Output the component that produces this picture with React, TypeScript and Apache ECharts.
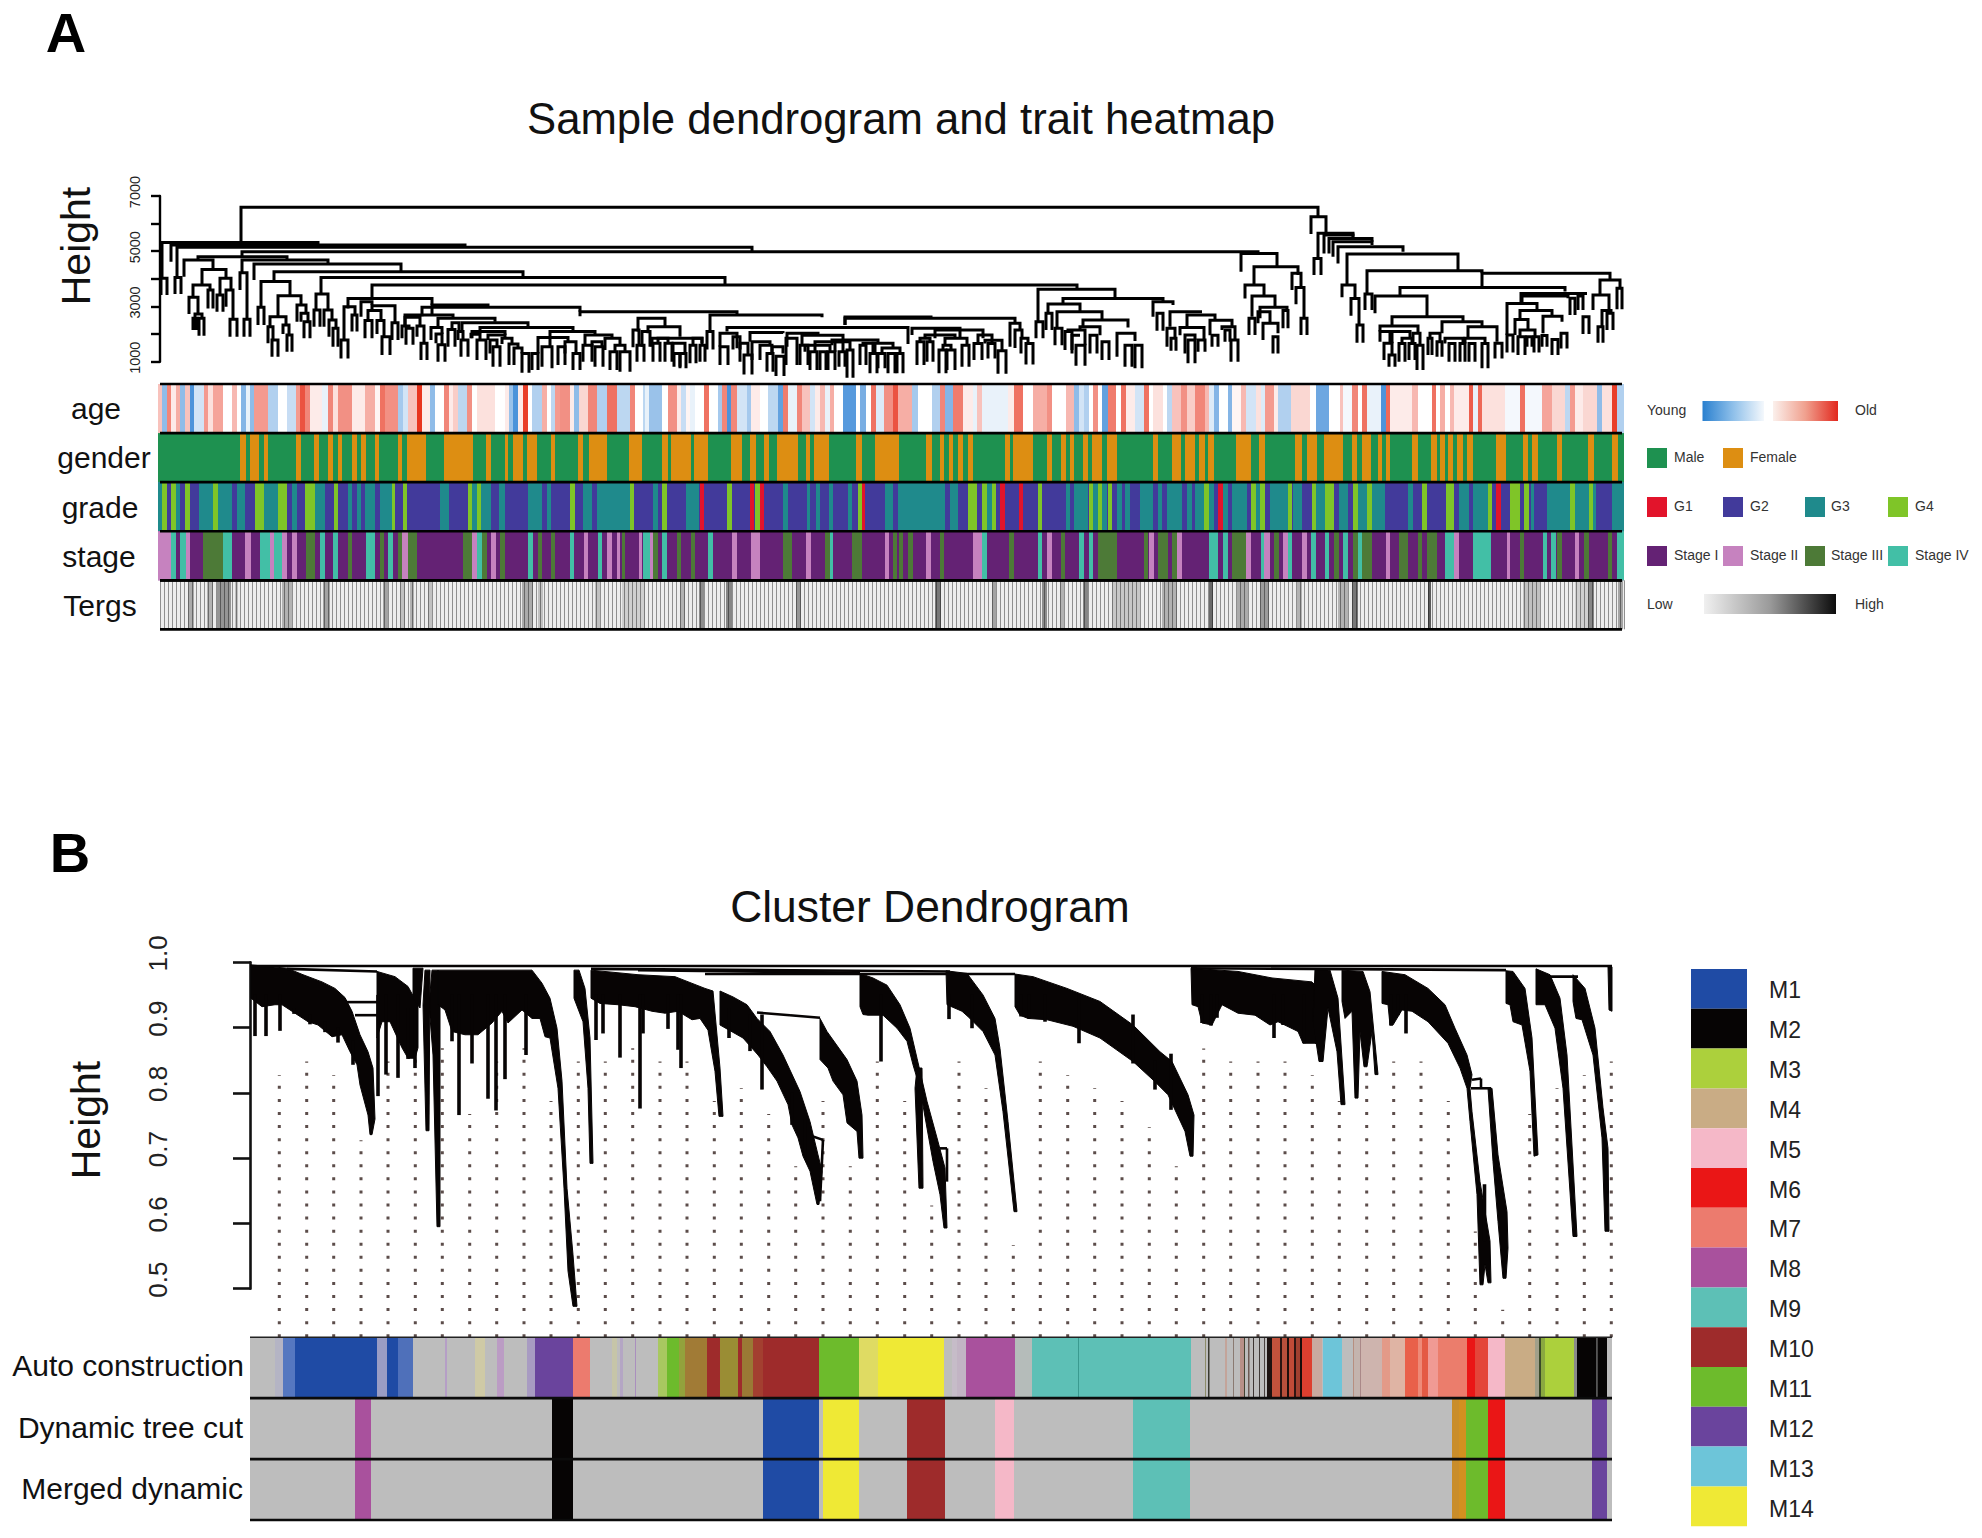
import React, { useEffect, useRef } from "react";
import * as echarts from "echarts";

const FONT = '"Liberation Sans", Arial, sans-serif';

// ---------- Panel A: sample dendrogram, [leftX, rightX, top, leftBottom, rightBottom]
const heightTicksA = [1000, 3000, 5000, 7000];
const sampleTree: number[][] = [
  [81,1158,6590,5285,6250],[2,158,5320,4020,5225],[1,7,4020,3415,3415],[11,305,5225,4620,5140],[17,592,5140,4050,4980],[15,21,4050,3450,3450],
  [82,1098,4980,4800,4920],[38,127,4800,4680,4680],[24,53,4680,4080,4340],[42,66,4340,3780,4020],[33,50,3780,3355,3595],[48,53,3595,2930,2930],
  [29,38,3330,2725,2750],[35,42,2725,2150,2570],[33,37,2570,2150,2150],[39,44,2570,1940,1940],[60,71,4020,3415,3595],[57,63,3415,2810,2810],
  [66,73,3595,2990,2535],[70,77,2535,1905,1905],[82,168,4680,4220,4540],[80,87,4220,3595,2535],[84,90,2535,1905,1905],[94,241,4540,3960,4260],
  [114,363,4260,3900,4050],[101,130,3900,2970,3415],[98,104,2970,2330,2330],[118,141,3390,2630,3050],[110,126,2630,2270,2330],[108,113,2270,1665,1785],
  [112,118,1785,1180,1180],[123,129,2330,2000,1965],[127,132,1965,1360,1360],[137,146,3050,2450,2750],[141,148,2750,2450,2450],[144,150,2450,1845,1845],
  [161,565,4050,3450,3780],[156,168,3450,2870,2870],[154,160,2870,2270,2270],[164,172,2870,2270,2510],[169,176,2510,1905,2210],[173,178,2210,1545,1545],
  [212,917,3780,3290,3620],[188,272,3290,2930,3050],[184,195,2990,1785,2690],[181,188,1785,1120,1120],[192,197,2690,2090,2090],[201,212,3170,2630,3050],
  [208,221,2850,2490,2510],[205,212,2490,1845,1845],[217,224,2490,2000,1905],[222,230,1905,1240,1240],[212,235,3030,2850,2410],[232,238,2410,1785,1785],
  [272,328,3050,2730,2970],[262,420,2970,2650,2810],[245,293,2690,2330,2570],[245,260,2610,2290,2290],[242,249,2290,1850,2210],[246,253,2210,1610,1610],
  [257,264,2290,1905,1665],[261,267,1665,1060,1060],[278,335,2570,2290,2450],[271,282,2240,1785,2000],[276,282,2000,1665,1610],[278,285,1610,1000,1000],
  [288,295,2170,1545,1545],[292,299,2410,2170,2090],[298,303,2090,1785,1785],[301,308,1785,1180,1180],[302,368,2410,2090,2240],[320,413,2240,2030,2090],
  [312,345,2090,1850,1970],[311,320,1990,1850,1785],[317,326,1785,1060,1060],[328,345,1970,1785,1850],[333,340,1545,820,820],[330,337,1785,1300,1545],
  [342,352,1850,1640,1640],[349,358,1640,880,1500],[354,362,1500,880,1300],[362,369,1300,600,600],[378,408,1880,1300,1720],[372,378,1300,700,700],
  [390,435,2090,1545,1970],[382,392,1545,820,760],[398,405,1545,880,880],[413,420,1300,700,700],[405,416,1720,1300,1300],[425,452,1970,1600,1850],
  [423,432,1600,1000,1000],[435,443,1545,820,820],[432,442,1720,1545,1545],[445,460,1850,1425,1600],[450,457,1360,700,700],[460,470,1360,640,640],
  [455,465,1600,1360,1360],[420,577,2810,2650,2730],[478,505,2570,2090,2270],[473,479,2150,1520,1600],[477,484,1600,1000,1000],[482,490,2090,1545,1545],
  [488,520,2270,2030,1905],[492,542,1850,1545,1665],[493,500,1665,1000,1000],[505,512,1665,1000,1000],[498,508,1850,1665,1665],[513,525,1665,1300,1300],
  [514,520,1300,820,820],[520,526,1300,760,760],[530,536,1600,940,940],[533,542,1850,1600,1600],[540,545,1600,1000,1000],[547,553,2090,1445,1445],
  [550,662,2690,2090,2610],[685,771,2620,2330,2570],[685,855,2570,2330,2390],[567,748,2240,2090,1640],[560,577,2030,1545,1485],[560,568,1545,880,880],
  [573,580,1905,1445,1445],[590,623,2060,1725,2030],[580,588,1665,1000,1270],[584,592,1240,540,540],[592,610,1725,1060,1600],[600,612,1600,1060,1300],
  [607,613,1300,640,640],[612,623,1545,1240,1300],[616,624,1200,480,480],[627,658,2030,1545,1960],[626,637,1850,880,880],[642,683,1960,1600,1720],
  [640,648,1600,880,880],[650,657,1360,700,700],[660,666,1360,700,700],[668,675,1360,700,700],[679,685,1360,820,820],[687,693,1420,420,420],
  [645,670,1600,1360,1360],[655,683,1720,1360,1360],[675,690,1720,1360,1420],[672,718,1785,1600,1640],[700,706,1600,880,880],[710,717,1300,580,580],
  [718,725,1300,760,760],[728,735,1300,580,580],[737,743,1300,580,580],[703,715,1665,1600,1300],[713,733,1665,1300,1500],[722,740,1500,1300,1300],
  [752,800,2210,1970,1850],[775,823,2150,1850,1850],[757,764,1720,880,880],[767,773,1720,1000,1000],[779,786,1420,580,580],[787,795,1420,700,700],
  [802,809,1600,820,820],[814,822,1660,1060,1060],[828,835,1660,1120,1120],[838,846,1400,560,560],[760,770,1850,1720,1720],[783,791,1600,1420,1420],
  [785,807,1850,1600,1600],[765,795,1970,1850,1850],[818,832,1970,1660,1660],[825,842,1780,1660,1400],[850,860,2390,1545,2150],[855,862,2150,1500,1850],
  [861,868,1850,1300,1660],[866,873,1660,900,900],[878,955,3620,2450,3290],[876,883,2450,1850,1850],[903,1003,3290,3090,3170],[888,920,3090,2750,2810],
  [886,892,2750,2150,2150],[897,942,2810,2210,2510],[895,902,2210,1600,1600],[923,968,2510,2270,2240],[905,912,2090,1425,1425],[912,920,1960,1300,1960],
  [916,925,1600,850,850],[930,937,1960,1300,1300],[942,949,1720,1060,1060],[908,925,2150,2090,1600],[920,940,2270,2150,1960],[957,975,2030,1180,1750],
  [965,972,1600,820,820],[975,982,1600,760,760],[993,1013,3170,2630,3050],[997,1003,2750,2120,2120],[1010,1042,2810,2270,2810],[1007,1015,2210,1545,1850],
  [1011,1016,1850,1400,1400],[1020,1044,2240,1960,1785],[1025,1035,1970,1300,1785],[1028,1035,1785,940,940],[1038,1045,1785,1360,1360],[1027,1055,2690,2240,2500],
  [1050,1072,2500,1960,2270],[1052,1058,1960,1545,1545],[1065,1070,2150,1720,1720],[1071,1078,1785,1000,1000],[1062,1075,2270,2150,1785],
  [1081,1117,4920,4260,4440],[1094,1138,4440,3780,4140],[1085,1104,3780,3290,3380],[1092,1115,3380,2630,2970],[1089,1095,2570,1965,1965],[1100,1127,2970,2570,2850],
  [1123,1128,2850,2210,2210],[1098,1110,2810,2390,2390],[1103,1118,2390,1785,2030],[1113,1118,1905,1300,1300],[1132,1141,4200,3600,3690],[1136,1144,3690,3080,2570],
  [1141,1147,2570,1965,1965],[1151,1166,6250,5620,5650],[1158,1193,5650,4740,5530],[1154,1161,4740,4140,4140],[1164,1193,5590,4920,5465],[1169,1212,5465,4920,5345],
  [1173,1212,5345,4800,5225],[1178,1243,5165,4560,4980],[1187,1298,4900,3780,4320],[1182,1195,3780,3330,3300],[1191,1199,3290,2660,2330],[1197,1203,2330,1690,1690],
  [1207,1322,4290,3470,4200],[1205,1212,3450,2870,2870],[1215,1267,3380,2750,2630],[1322,1450,4200,3690,3960],[1240,1405,3690,3380,3540],[1440,1460,3960,3415,3660],
  [1433,1449,3415,2870,2730],[1457,1462,3660,2900,2900],[1447,1453,2750,2150,2150],[1438,1443,2270,1690,1690],[1442,1451,2850,2270,2750],[1361,1427,3470,3110,3470],
  [1423,1429,2630,2000,2000],[1410,1415,3300,2690,2690],[1418,1423,3380,2870,2870],[1362,1408,3380,3110,3300],[1347,1377,3110,1965,2850],[1347,1353,1965,1330,1330],
  [1360,1392,2850,2530,2650],[1355,1368,2530,1965,2150],[1383,1402,2650,2030,2450],[1358,1365,1900,1240,1240],[1367,1372,1900,1540,1540],[1374,1379,1900,1330,1330],
  [1382,1387,1950,1540,1540],[1392,1398,1800,1240,1240],[1401,1407,2030,1480,1480],[1360,1375,2150,1900,1900],[1232,1303,2630,2290,2450],[1220,1258,2290,2090,2030],
  [1220,1232,2090,1720,1665],[1224,1232,1665,1060,1240],[1229,1235,1240,820,820],[1239,1245,1660,1000,1000],[1249,1255,1660,1060,1060],[1257,1263,1600,700,700],
  [1268,1272,1850,1240,1240],[1277,1282,1720,1180,1180],[1289,1295,1660,1000,1000],[1300,1305,1660,1000,1000],[1309,1315,1660,1000,1000],[1322,1328,1660,760,760],
  [1335,1342,1665,1120,1120],[1242,1252,1850,1660,1660],[1230,1250,2090,1665,1850],[1253,1260,2030,1660,1600],[1270,1280,2030,1850,1720],[1285,1303,1850,1660,1660],
  [1305,1325,1850,1660,1660],[1282,1322,2450,2030,2270],[1308,1337,2270,1850,1720],
];

// ---------- Panel A: trait rows
const ageStops: number[][] = [
  [-2,.3],[2,-.5],[7,.6],[11,.1],[16,.4],[20,-.5],[25,.3],[30,-.8],[34,-.2],[44,.5],[48,.15],[53,.45],[63,0],[72,.35],[77,0],[81,-.55],[86,-.1],[90,-.5],[94,.5],[108,-.35],[118,0],[127,-.25],[136,.5],[140,.85],[145,.6],[150,.1],[162,-.1],[168,.6],[173,.15],[178,.55],[192,.1],[205,.4],[215,.05],[220,.7],[225,.55],[238,-.4],[243,-.2],[248,.3],[257,1],[262,.1],[270,-.5],[275,0],[284,.6],[289,.1],[293,.25],[298,-.3],[307,.55],[312,0],[317,.15],[335,0],[345,.1],[349,-.45],[353,-.8],[358,.1],[363,.95],[368,0],[372,-.35],[382,.4],[387,0],[391,-.3],[395,.5],[400,.55],[410,.1],[414,-.5],[419,.2],[428,.6],[437,-.35],[447,.7],[457,-.3],[470,.6],[475,0],[483,-.3],
  [485,-.1],[489,-.45],[502,0],[508,.55],[517,.1],[521,-.25],[526,.05],[530,-.1],[535,0],[544,.7],[549,0],[558,-.4],[562,.6],[567,-.8],[571,.6],[577,-.2],[587,-.4],[591,.1],[600,0],[608,-.3],[618,-.7],[623,.65],[628,-.1],[637,.6],[642,.3],[650,-.2],[655,.1],[660,.35],[665,-.1],[670,.4],[674,0],[683,-.75],[696,0],[700,-.6],[706,0],[711,.7],[716,-.15],[724,.55],[733,.85],[738,.4],[752,-.4],[758,0],[772,-.35],[780,.6],[785,-.55],[793,.65],[803,.1],[813,-.1],[817,.3],[822,-.1],[848,.1],[854,.7],[863,0],[873,.4],[887,.55],[892,0],[906,.35],[914,-.5],[919,-.2],[924,-.35],[929,0],[933,.55],[938,0],[942,-.7],[948,.65],[956,0],[961,.7],[966,.1],[975,-.2],
  [984,.7],[989,0],[993,.15],[1003,0],[1007,-.3],[1012,.3],[1021,.55],[1027,.25],[1035,.6],[1045,.35],[1049,-.15],[1054,-.55],[1059,0],[1068,-.55],[1072,.05],[1081,.35],[1086,-.2],[1096,.15],[1101,-.15],[1105,.5],[1114,.1],[1118,-.35],[1131,.2],[1150,0],[1156,-.65],[1169,0],[1180,.3],[1183,-.05],[1192,.6],[1198,0],[1202,.7],[1207,-.1],[1221,-.8],[1226,.75],[1230,.1],[1252,.35],[1258,0],[1272,.7],[1276,0],[1280,.4],[1285,0],[1290,.35],[1294,.1],[1309,.8],[1313,-.1],[1318,.75],[1322,.15],[1345,-.05],[1360,.7],[1365,-.05],[1382,.45],[1392,.2],[1405,-.3],[1410,.5],[1415,.1],[1423,.2],[1437,-.5],[1442,.15],[1452,.95],[1457,-.35],
];
const femaleRuns: number[][] = [
  [80,86],[90,99],[104,108],[136,141],[154,159],[168,173],[178,182],[192,197],[201,206],[215,219],[238,242],[247,266],[284,313],[326,331],[345,348],[353,363],[367,377],[391,395],[418,423],[429,447],[469,482],
  [502,508],[511,531],[534,548],[571,582],[590,596],[604,609],[617,638],[646,650],[654,669],[696,702],[715,739],[766,772],[780,784],[789,793],[798,803],[808,813],[845,850],[853,873],[887,892],[901,906],[910,914],[923,928],[932,942],[947,957],
  [993,998],[1012,1021],[1025,1035],[1039,1045],[1048,1054],[1076,1091],[1099,1105],[1135,1142],[1147,1157],[1164,1183],[1192,1197],[1202,1211],[1218,1222],[1226,1230],[1252,1258],[1271,1277],[1280,1285],[1288,1293],[1297,1303],[1307,1313],[1336,1346],[1363,1368],[1372,1378],[1397,1402],[1428,1434],[1452,1458],
];
const g1Runs: number[][] = [[540,544],[590,594],[600,604],[702,705],[840,845],[859,863],[1058,1063],[1336,1341]];
const g3Runs: number[][] = [
  [-2,2],[16,20],[39,53],[58,72],[77,85],[104,118],[132,137],[155,165],[188,192],[197,201],[205,215],[220,232],[280,289],[312,317],[321,331],[339,345],[368,382],[387,391],[423,432],[437,470],
  [493,498],[526,539],[623,628],[647,650],[656,660],[669,673],[688,692],[725,733],[738,785],[790,798],[827,832],[906,910],[914,928],[933,938],[942,947],[957,962],[965,970],
  [980,993],[998,1002],[1007,1022],[1027,1032],[1035,1044],[1049,1054],[1063,1068],[1072,1087],[1096,1100],[1110,1128],[1133,1142],[1156,1165],[1179,1188],[1198,1207],[1212,1225],[1248,1253],[1299,1309],[1313,1328],[1371,1374],[1387,1410],[1415,1429],[1433,1436],[1452,1464],
];
const g4Runs: number[][] = [
  [2,7],[11,16],[25,30],[53,58],[95,104],[118,127],[145,155],[174,178],[232,235],[243,247],[308,312],[317,321],[410,415],[470,474],
  [502,507],[567,572],[595,600],[698,702],[808,817],[822,827],[832,836],[878,882],[929,933],[938,942],[948,952],
  [1044,1049],[1091,1096],[1100,1105],[1128,1132],[1152,1156],[1165,1174],[1193,1198],[1207,1212],[1262,1267],[1286,1294],[1328,1332],[1350,1360],[1364,1369],[1410,1415],[1429,1433],
];
const stage2Runs: number[][] = [
  [-2,11],[26,30],[85,91],[110,114],[122,127],[132,137],[242,248],[312,317],[331,336],[424,428],[447,452],[457,460],[479,482],[485,493],[572,577],[591,600],[646,651],[725,729],[766,771],[813,822],[887,892],
  [989,994],[1017,1022],[1086,1091],[1104,1110],[1123,1128],[1142,1147],[1226,1230],[1294,1299],[1347,1350],[1415,1419],
];
const stage3Runs: number[][] = [
  [43,63],[188,192],[220,224],[238,242],[248,257],[303,312],[322,327],[340,345],[146,155],[378,382],[391,395],[462,465],[493,498],[517,521],[531,535],[623,632],[665,670],[692,702],[733,737],[739,743],[748,753],[780,784],[849,854],[901,905],[938,957],
  [984,988],[998,1008],[1012,1017],[1072,1086],[1114,1119],[1174,1179],[1193,1198],[1202,1212],[1239,1248],[1258,1262],[1267,1277],[1360,1364],[1397,1402],[1424,1429],[1448,1452],
];
const stage4Runs: number[][] = [
  [11,16],[20,26],[63,72],[100,110],[114,122],[160,165],[173,178],[206,215],[228,233],[317,322],[368,373],[410,414],[438,442],[483,490],[502,507],[548,553],[670,673],[822,827],[878,882],[919,924],[929,933],
  [1049,1058],[1063,1068],[1101,1104],[1128,1132],[1151,1156],[1165,1169],[1183,1188],[1198,1202],[1285,1294],[1313,1331],[1383,1387],[1391,1396],[1457,1464],
];
const tergsBands: number[][] = [
  [28,34,.45],[47,53,.4],[57,71,.6],[75,78,.3],[122,132,.4],[163,170,.5],[223,228,.5],[240,245,.3],[250,254,.4],[268,272,.3],[362,373,.45],[378,383,.3],[435,440,.3],[462,485,.2],
  [520,525,.4],[539,544,.65],[566,572,.7],[636,641,.6],[775,781,.8],[832,836,.5],[882,887,.65],[900,904,.4],[923,928,.7],[952,980,.25],
  [1002,1017,.4],[1049,1053,.9],[1077,1088,.45],[1100,1109,.55],[1137,1142,.4],[1178,1188,.4],[1192,1198,.8],[1268,1271,1],[1363,1380,.3],[1415,1428,.2],[1428,1434,.7],[1458,1463,.5],
];
const traitNames = ["age", "gender", "grade", "stage", "Tergs"];
const traitRowEdges = [0, 1, 2, 3, 4];
const tergsRowEdges = [0, 1];

// ---------- Panel B: module colours
const moduleNames = ["M1","M2","M3","M4","M5","M6","M7","M8","M9","M10","M11","M12","M13","M14"];
const moduleColors = ["#1f4ba5","#060404","#acd03c","#c9ac85","#f5b8c8","#ea1616","#ec7b6e","#a9519d","#5dc0b6","#9e2b2b","#6dbb2c","#6a449d","#6dc5d9","#efe935"];
const [M1,M2,M3,M4,M5,M6,M7,M8,M9,M10,M11,M12,M13,M14] = moduleColors;
const GREY = "#bdbdbd";
const autoRuns: [number,number,string][] = [
  [25,33,"#b4b4c4"],[33,45,"#5577c0"],[45,127,M1],[127,137,"#9a9dc4"],[137,148,M1],[148,163,"#4f70ba"],[195,197,"#b59ec6"],[225,235,"#cfcaa6"],[247,254,"#bb9cc4"],[277,285,"#a89bc2"],[285,323,M12],[323,340,M7],
  [362,367,"#c6c5a8"],[370,373,"#b4a6c4"],[385,386,"#aa8fbe"],[408,417,"#a8c860"],[417,429,M11],[429,435,"#93a23c"],[435,450,"#a17b36"],
  [450,457,"#a07a33"],[457,470,M10],[470,488,"#9a8d34"],[488,492,M10],[492,503,"#9a7a35"],[503,513,"#a33f30"],[513,569,M10],[569,609,M11],[609,628,"#dfdb63"],[628,694,M14],[702,707,"#c6bcc8"],[707,716,"#c2b4c4"],[716,765,M8],[765,782,"#b5bcba"],[782,941,M9],[828,829,"#3a9a90"],
  [955,956,"#8d8d6a"],[958,959.5,"#3a3a30"],[975,977,"#c3a49a"],[983,984,"#8a7a72"],[990,994,"#b89088"],[994,995,"#444433"],[998,999.5,"#6e5a54"],[1003,1004,"#3d3533"],[1009,1010,"#403a38"],[1014,1015,"#4a4240"],[1017,1022,"#1c1210"],
  [1022,1030,"#c1523c"],[1030,1032,"#2a1512"],[1032,1037,"#b8503c"],[1037,1039,"#1e0f0c"],[1039,1044,"#c04b38"],[1044,1046,"#301512"],[1046,1050,"#a04030"],[1050,1052,"#1a0d0a"],[1052,1062,"#dd3f2f"],[1062,1072,"#c9aaa0"],[1073,1092,M13],
  [1103,1104,"#b78f80"],[1104,1110,"#c4b4ae"],[1110,1111,"#aa8888"],[1111,1132,"#ceb4ae"],[1132,1140,"#e39a88"],[1140,1155,"#dfb4a4"],[1155,1168,"#e9604a"],[1168,1172,"#ee8a78"],[1172,1178,"#e45a44"],[1178,1188,"#f09a94"],[1188,1217,"#eb7d6c"],[1217,1225,M6],[1225,1232,"#e4453a"],[1232,1238,"#e4453a"],
  [1238,1255,M5],[1255,1285,M4],[1285,1289,"#a0a08a"],[1289,1291,"#3a4a28"],[1291,1295,"#8aa840"],[1295,1324,M3],[1324,1327,"#8a8a8a"],[1327,1346,M2],[1346,1347.5,"#555555"],[1347.5,1357,M2],
];
const cutRuns: [number,number,string][] = [
  [105,121,M8],[302,323,M2],[513,569,M1],[573,609,M14],[657,695,M10],[745,764,M5],[883,940,M9],[1202,1209,"#c98d2a"],[1209,1216,"#d39020"],[1216,1238,M11],[1238,1255,M6],[1342,1357,M12],
];
const moduleRowNames = ["Auto construction", "Dynamic tree cut", "Merged dynamic"];
const moduleRowEdges = [1, 2, 3];

// ---------- Panel B: gene dendrogram masses, [position, height]
const geneMasses: number[][][] = [
  [[1,.996],[37,.991],[53,.981],[72,.970],[85,.960],[95,.946],[102,.925],[110,.889],[118,.863],[123,.838],[125,.760],[122,.736],[120,.736],[118,.766],[110,.812],[107,.843],[100,.863],[92,.889],[82,.886],[68,.904],[58,.909],[48,.919],[40,.927],[32,.935],[25,.935],[12,.932],[1,.945]],
  [[127,.986],[145,.978],[158,.963],[168,.935],[168,.869],[165,.853],[158,.853],[152,.869],[143,.899],[140,.909],[132,.909],[127,.884]],
  [[182,.988],[188,.988],[190,.935],[190,.595],[187,.595],[183,.858],[179,.935]],
  [[175,.988],[180,.988],[179,.742],[176,.742],[173,.935]],
  [[163,.991],[173,.991],[170,.930],[163,.945]],
  [[188,.988],[282,.988],[292,.968],[300,.945],[307,.899],[312,.818],[317,.654],[323,.552],[327,.473],[323,.473],[318,.527],[314,.654],[308,.807],[300,.884],[295,.886],[290,.914],[282,.914],[272,.927],[258,.907],[252,.925],[242,.907],[228,.889],[215,.889],[202,.894],[195,.927],[188,.935]],
  [[324,.988],[329,.988],[335,.960],[340,.884],[343,.692],[340,.692],[338,.807],[333,.909],[324,.945]],
  [[341,.988],[388,.981],[425,.978],[455,.960],[463,.956],[470,.838],[473,.764],[469,.764],[465,.833],[458,.896],[450,.914],[442,.912],[428,.925],[415,.922],[402,.925],[385,.932],[368,.935],[350,.937],[341,.945]],
  [[470,.956],[483,.947],[497,.935],[507,.914],[520,.894],[533,.858],[550,.802],[560,.756],[568,.705],[572,.680],[569,.629],[567,.629],[560,.680],[553,.703],[548,.731],[542,.751],[538,.782],[527,.818],[517,.840],[508,.858],[493,.884],[478,.897],[470,.904]],
  [[570,.914],[577,.894],[597,.851],[607,.818],[612,.766],[613,.700],[609,.700],[607,.741],[597,.754],[593,.797],[583,.818],[578,.838],[570,.851]],
  [[610,.983],[623,.976],[637,.965],[650,.935],[660,.899],[667,.853],[677,.787],[687,.731],[695,.685],[697,.593],[694,.593],[690,.644],[683,.695],[677,.746],[670,.807],[663,.843],[657,.879],[647,.899],[633,.919],[618,.919],[613,.920],[610,.932]],
  [[667,.838],[672,.838],[673,.654],[669,.654],[665,.807]],
  [[696,.987],[717,.983],[733,.950],[745,.914],[750,.868],[758,.756],[767,.618],[764,.618],[753,.771],[745,.858],[733,.894],[720,.914],[712,.925],[697,.935]],
  [[765,.982],[783,.978],[817,.960],[850,.940],[883,.904],[910,.863],[922,.848],[938,.797],[944,.766],[943,.703],[940,.703],[935,.741],[918,.797],[905,.817],[883,.848],[850,.884],[823,.902],[797,.912],[778,.914],[770,.919],[765,.932]],
  [[941,.991],[988,.986],[1022,.976],[1062,.970],[1065,.965],[1068,.874],[1065,.876],[1053,.876],[1048,.894],[1028,.909],[1020,.904],[1005,.919],[988,.922],[972,.935],[962,.904],[952,.907],[948,.932],[942,.935]],
  [[1065,.990],[1080,.988],[1088,.945],[1095,.782],[1091,.782],[1087,.863],[1078,.930],[1073,.848],[1069,.848],[1063,.909]],
  [[1092,.988],[1113,.986],[1120,.955],[1128,.828],[1125,.828],[1122,.894],[1117,.840],[1114,.840],[1110,.894],[1108,.792],[1105,.792],[1102,.925],[1095,.914],[1092,.940]],
  [[1132,.986],[1155,.981],[1178,.960],[1195,.935],[1205,.899],[1217,.858],[1222,.828],[1220,.807],[1222,.771],[1230,.664],[1240,.573],[1241,.509],[1238,.509],[1235,.537],[1233,.506],[1230,.506],[1227,.644],[1220,.756],[1217,.807],[1210,.838],[1198,.876],[1178,.909],[1162,.925],[1152,.927],[1143,.904],[1140,.904],[1138,.935],[1132,.937]],
  [[1238,.807],[1242,.807],[1248,.705],[1257,.618],[1258,.562],[1256,.516],[1253,.516],[1248,.603],[1243,.695]],
  [[1256,.987],[1263,.986],[1275,.960],[1282,.884],[1288,.705],[1284,.703],[1280,.833],[1272,.904],[1263,.909],[1260,.935],[1256,.937]],
  [[1286,.990],[1300,.981],[1310,.945],[1317,.858],[1327,.580],[1323,.580],[1313,.807],[1305,.899],[1295,.935],[1286,.935]],
  [[1323,.981],[1335,.960],[1345,.899],[1353,.777],[1358,.715],[1359,.588],[1355,.588],[1352,.731],[1343,.858],[1332,.912],[1326,.914],[1323,.940]],
  [[1358,.993],[1362,.993],[1362,.925],[1359,.927]],
];
// [position, top, bottom] single hanging branches
const geneSpikes: number[][] = [
  [5,.95,.887],[16,.95,.887],[30,.95,.895],[44,.93,.921],[60,.92,.905],[75,.91,.893],[88,.90,.877],[103,.88,.843],[128,.95,.795],[136,.95,.828],[148,.95,.823],[158,.93,.852],[165,.93,.838],
  [202,.95,.879],[209,.95,.766],[222,.95,.845],[238,.95,.791],[246,.95,.773],[255,.95,.821],[276,.95,.858],
  [346,.95,.881],[353,.95,.891],[370,.95,.854],[390,.95,.776],[393,.95,.891],[418,.95,.898],[428,.95,.866],[431,.95,.838],
  [479,.93,.884],[500,.92,.864],[512,.92,.805],[542,.80,.751],[555,.76,.703],[631,.95,.848],[699,.95,.913],[722,.95,.899],
  [771,.95,.917],[779,.95,.914],[795,.95,.909],[829,.95,.876],[883,.92,.845],[905,.85,.805],[921,.86,.774],
  [952,.95,.907],[961,.95,.903],[967,.95,.915],[1024,.95,.884],[1033,.95,.904],[1054,.95,.876],[1141,.95,.903],[1148,.95,.919],[1156,.95,.891],
  [1234.5,.66,.573],
];
// [x1, h1, x2, h2] thin joining branches
const geneLinks: number[][] = [
  [0,.9944,1362,.9944],[37,.990,127,.986],[95,.939,127,.939],[105,.919,127,.919],[341,.990,700,.986],[388,.988,610,.984],[455,.982,765,.982],
  [507,.923,540,.919],[540,.919,570,.915],[563,.733,573,.728],[573,.728,570,.634],[690,.715,697,.715],[697,.715,697,.664],
  [1222,.820,1231,.822],[1231,.822,1231,.807],[1221,.807,1241,.807],[1286,.978,1328,.978],[941,.991,1256,.988],
];
// [position, height of the top dot] dotted guide columns
const guideColumns: number[][] = [
  [29.3,.8275],[56.7,.848],[83.7,.8275],[111,.7274],[138,.848],[165.3,.8683],[192.3,.8683],[219.7,.7677],[246.7,.848],[274,.8683],[301,.7876],[328.3,.848],[355.3,.848],[382.7,.8683],[410,.848],[437,.848],
  [464.3,.7876],[491.3,.8075],[518.7,.7677],[545.7,.6876],[573,.7876],[600.3,.6876],[627.3,.848],[654.7,.7876],[681.7,.6273],[709,.848],[736,.8075],[763.3,.5671],[790.3,.848],[817.7,.8275],[844.7,.8075],[872,.7876],[899.3,.7473],
  [926.3,.6876],[953.7,.8678],[980.7,.848],[1008,.848],[1035,.848],[1062.3,.8275],[1089.3,.7876],[1116.7,.848],[1143.7,.848],[1171,.848],[1198.3,.7876],[1225.3,.5875],[1252.7,.4676],[1279.7,.7677],[1307,.8075],[1334.3,.8275],[1361.3,.848],
];
const GUIDE_FOOT = .4257;
const heightTicksB = [0.5, 0.6, 0.7, 0.8, 0.9, 1.0];

// ---------- Legend entries
const genderLegend = [["Male","#1e9150"],["Female","#dd8e12"]];
const gradeLegend = [["G1","#e2142b"],["G2","#423a9b"],["G3","#1f8a8c"],["G4","#7fc528"]];
const stageLegend = [["Stage I","#642274"],["Stage II","#c682bf"],["Stage III","#4d7a37"],["Stage IV","#42bfa6"]];

const cust = (gridIndex: number, items: any[], draw: (it: any, api: any) => any, z = 2) => ({
  type: "custom",
  xAxisIndex: gridIndex,
  yAxisIndex: gridIndex,
  silent: true,
  animation: false,
  z,
  data: items.map((_, i) => [i]),
  renderItem: (params: any, api: any) => draw(items[params.dataIndex], api),
});

const cell = (api: any, x0: number, x1: number, r0: number, r1: number, style: any) => {
  const a = api.coord([x0, r0]);
  const b = api.coord([x1, r1]);
  return { type: "rect", shape: { x: a[0], y: a[1], width: b[0] - a[0], height: b[1] - a[1] }, style };
};

const runsOn = (grid: number, row: number, runs: number[][], fill: string, z = 2) =>
  cust(grid, runs, (r, api) => cell(api, r[0], r[1], row, row + 1, { fill }), z);

const txt = (text: string, x: number, y: number, size: number, opt: any = {}) => ({
  type: "text",
  x,
  y,
  rotation: opt.rotation || 0,
  z: 20,
  silent: true,
  style: {
    text,
    fontFamily: FONT,
    fontSize: size,
    fontWeight: opt.weight || "normal",
    fill: opt.fill || "#111",
    align: opt.align || "center",
    textAlign: opt.align || "center",
    verticalAlign: "middle",
    textVerticalAlign: "middle",
  },
});

const box = (x: number, y: number, w: number, h: number, fill: any) => ({
  type: "rect", silent: true, z: 20, shape: { x, y, width: w, height: h }, style: { fill },
});
const grad = (stops: string[]) =>
  new echarts.graphic.LinearGradient(0, 0, 1, 0, stops.map((color, i) => ({ offset: i / (stops.length - 1), color })));

function buildOption() {
  const ageColor = (v: number) => echarts.color.lerp((v + 1) / 2, ["#1f78d1", "#ffffff", "#e8351f"]);
  const ageBands = ageStops.map((s, i) => [s[0], i + 1 < ageStops.length ? ageStops[i + 1][0] : 1464, s[1]]);

  const hiddenX = (grid: number, min: number, max: number) => ({ type: "value", gridIndex: grid, min, max, show: false });
  const hiddenY = (grid: number, min: number, max: number, inverse = true) => ({ type: "value", gridIndex: grid, min, max, inverse, show: false });

  const series: any[] = [
    // A dendrogram
    cust(0, sampleTree, (b, api) => {
      const p = [[b[0], b[3]], [b[0], b[2]], [b[1], b[2]], [b[1], b[4]]].map((q) => api.coord(q));
      return { type: "polyline", shape: { points: p }, style: { stroke: "#000", fill: "none", lineWidth: 3, lineJoin: "miter" } };
    }),
    // A trait rows
    cust(1, ageBands, (b, api) => cell(api, b[0], b[1], 0, 1, { fill: ageColor(b[2]) })),
    cust(1, [[-2, 1464, 1, 2, "#1e9150"], [-2, 1464, 2, 3, "#423a9b"], [-2, 1464, 3, 4, "#642274"]],
      (b, api) => cell(api, b[0], b[1], b[2], b[3], { fill: b[4] }), 1),
    runsOn(1, 1, femaleRuns, "#dd8e12"),
    runsOn(1, 2, g3Runs, "#1f8a8c"),
    runsOn(1, 2, g4Runs, "#7fc528"),
    runsOn(1, 2, g1Runs, "#e2142b"),
    runsOn(1, 3, stage2Runs, "#c682bf"),
    runsOn(1, 3, stage3Runs, "#4d7a37"),
    runsOn(1, 3, stage4Runs, "#42bfa6"),
    cust(1, traitRowEdges, (r, api) => {
      const a = api.coord([0, r]); const b = api.coord([1462, r]);
      return { type: "line", shape: { x1: a[0], y1: a[1], x2: b[0], y2: b[1] }, style: { stroke: "#000", lineWidth: 2.7 } };
    }, 6),
    // Tergs
    cust(2, tergsBands, (b, api) => cell(api, b[0], b[1], 0, 1, { fill: "#000", opacity: b[2] * 0.62 })),
    cust(2, tergsRowEdges, (r, api) => {
      const a = api.coord([0, r]); const b = api.coord([1462, r]);
      return { type: "line", shape: { x1: a[0], y1: a[1], x2: b[0], y2: b[1] }, style: { stroke: "#000", lineWidth: 2.7 } };
    }, 6),
    // B guides
    cust(3, guideColumns, (c, api) => {
      const a = api.coord([c[0], GUIDE_FOOT]); const b = api.coord([c[0], c[1]]);
      return { type: "line", shape: { x1: a[0], y1: a[1], x2: b[0], y2: b[1] }, style: { stroke: "#5c4d4a", lineWidth: 3, lineDash: [3, 10.07] } };
    }, 1),
    // B dendrogram
    cust(3, geneMasses, (m, api) => ({ type: "polygon", shape: { points: m.map((q: number[]) => api.coord(q)) }, style: { fill: "#070404", stroke: "#070404", lineWidth: 1 } })),
    cust(3, geneSpikes, (s, api) => {
      const a = api.coord([s[0], s[1]]); const b = api.coord([s[0], s[2]]);
      return { type: "line", shape: { x1: a[0], y1: a[1], x2: b[0], y2: b[1] }, style: { stroke: "#070404", lineWidth: 3.6 } };
    }),
    cust(3, geneLinks, (l, api) => {
      const a = api.coord([l[0], l[1]]); const b = api.coord([l[2], l[3]]);
      return { type: "line", shape: { x1: a[0], y1: a[1], x2: b[0], y2: b[1] }, style: { stroke: "#070404", lineWidth: 2.6 } };
    }),
    // B module rows
    cust(4, autoRuns, (r, api) => cell(api, r[0], r[1], 0, 1, { fill: r[2] })),
    cust(4, cutRuns, (r, api) => cell(api, r[0], r[1], 1, 2, { fill: r[2] })),
    cust(4, cutRuns, (r, api) => cell(api, r[0], r[1], 2, 3, { fill: r[2] })),
    cust(4, moduleRowEdges, (r, api) => {
      const a = api.coord([0, r]); const b = api.coord([1362, r]);
      return { type: "line", shape: { x1: a[0], y1: a[1], x2: b[0], y2: b[1] }, style: { stroke: "#0b0b0b", lineWidth: 2.7 } };
    }, 6),
    cust(4, [0], (r, api) => {
      const a = api.coord([0, r]); const b = api.coord([1362, r]);
      return { type: "line", shape: { x1: a[0], y1: a[1], x2: b[0], y2: b[1] }, style: { stroke: "#222", lineWidth: 1.6 } };
    }, 6),
  ];

  const legendText = (t: string, x: number, y: number) => txt(t, x, y, 14, { align: "left", fill: "#333" });
  const swatchRow = (entries: string[][], xs: number[], txs: number[], y: number) =>
    entries.flatMap(([name, c], i) => [box(xs[i], y, 20, 20, c), legendText(name, txs[i], y + 9)]);

  const graphicElements: any[] = [
    txt("A", 66, 32, 56, { weight: "bold", fill: "#000" }),
    txt("B", 70, 852, 56, { weight: "bold", fill: "#000" }),
    txt("Sample dendrogram and trait heatmap", 901, 118, 43.7),
    txt("Cluster Dendrogram", 930, 906, 44.4),
    txt("Height", 76, 246, 41, { rotation: Math.PI / 2 }),
    txt("Height", 86, 1120, 41, { rotation: Math.PI / 2 }),
    txt(traitNames[0], 96, 408, 30),
    txt(traitNames[1], 104, 457, 30),
    txt(traitNames[2], 100, 507, 30),
    txt(traitNames[3], 99, 556, 30),
    txt(traitNames[4], 100, 605, 30),
    txt(moduleRowNames[0], 244, 1365, 30, { align: "right" }),
    txt(moduleRowNames[1], 243, 1427, 30, { align: "right" }),
    txt(moduleRowNames[2], 243, 1488, 30, { align: "right" }),
    legendText("Young", 1647, 410),
    box(1702.5, 401, 61.5, 20, grad(["#2a80cf", "#8fc0ea", "#f4f8fc"])),
    box(1773, 401, 65, 20, grad(["#fbf0ec", "#f0a08e", "#e2281e"])),
    legendText("Old", 1855, 410),
    ...swatchRow(genderLegend, [1647, 1723], [1674, 1750], 448),
    ...swatchRow(gradeLegend, [1647, 1723, 1805, 1888], [1674, 1750, 1831, 1915], 497),
    ...swatchRow(stageLegend, [1647, 1723, 1805, 1888], [1674, 1750, 1831, 1915], 546),
    legendText("Low", 1647, 604),
    box(1704, 594, 132, 20, grad(["#f0f0f0", "#9a9a9a", "#0c0c0c"])),
    legendText("High", 1855, 604),
    ...moduleNames.flatMap((name, i) => [
      box(1691, 969 + i * 39.8, 56, 39.8, moduleColors[i]),
      txt(name, 1769, 990 + i * 39.9, 23, { align: "left", fill: "#222" }),
    ]),
  ];

  return {
    animation: false,
    backgroundColor: "#fff",
    grid: [
      { left: 158, top: 196, width: 1466, height: 165.7 },
      { left: 158, top: 384, width: 1466, height: 196.3 },
      { left: 160, top: 580.3, width: 1464, height: 49, show: true, backgroundColor: "#ededed", borderWidth: 0 },
      { left: 250, top: 962.3, width: 1362, height: 326.4 },
      { left: 250, top: 1337.3, width: 1362, height: 182.7, show: true, backgroundColor: GREY, borderWidth: 0 },
    ],
    xAxis: [
      hiddenX(0, -2, 1464),
      hiddenX(1, -2, 1464),
      {
        type: "value", gridIndex: 2, min: 0, max: 1464, interval: 4,
        axisLine: { show: false }, axisTick: { show: false }, axisLabel: { show: false },
        splitLine: { show: true, lineStyle: { color: "#8f8f8f", width: 1 } },
      },
      hiddenX(3, 0, 1362),
      {
        type: "value", gridIndex: 4, min: 0, max: 1362, position: "bottom",
        axisLine: { show: false }, axisTick: { show: false }, axisLabel: { show: false }, splitLine: { show: false },
      },
    ],
    yAxis: [
      {
        type: "value", gridIndex: 0, min: 1000, max: 7000, interval: 1000, position: "left", offset: 4,
        axisLine: { show: true, lineStyle: { color: "#000", width: 2.4 } },
        axisTick: { show: true, length: 9, lineStyle: { color: "#000", width: 2.4 } },
        axisLabel: {
          rotate: 90, fontSize: 14.5, fontFamily: FONT, color: "#222", margin: 12, padding: [0, 0, 0, 8],
          formatter: (v: number) => (heightTicksA.includes(v) ? String(v) : ""),
        },
        splitLine: { show: false },
      },
      hiddenY(1, 0, 4),
      hiddenY(2, 0, 1),
      {
        type: "value", gridIndex: 3, min: 0.5, max: 1.0, interval: 0.1, position: "left", offset: 51,
        axisLine: { show: true, lineStyle: { color: "#111", width: 2.6 } },
        axisTick: { show: true, length: 17, lineStyle: { color: "#111", width: 2.6 } },
        axisLabel: {
          rotate: 90, fontSize: 26, fontFamily: FONT, color: "#222", margin: 28, padding: [0, 0, 0, 18],
          formatter: (v: number) => (heightTicksB.some((t) => Math.abs(t - v) < 1e-6) ? v.toFixed(1) : ""),
        },
        splitLine: { show: false },
      },
      {
        type: "value", gridIndex: 4, min: 0, max: 3, inverse: true, position: "left",
        axisLine: { show: false }, axisTick: { show: false }, axisLabel: { show: false }, splitLine: { show: false },
      },
    ],
    graphic: { elements: graphicElements },
    series,
  };
}

export default function App() {
  const ref = useRef<HTMLDivElement>(null);
  useEffect(() => {
    const chart = echarts.init(ref.current as HTMLDivElement, undefined, { renderer: "svg", width: 1982, height: 1538 });
    chart.setOption(buildOption() as any);
    return () => chart.dispose();
  }, []);
  return <div ref={ref} style={{ position: "absolute", left: 0, top: 0, width: 1982, height: 1538, background: "#fff" }} />;
}
